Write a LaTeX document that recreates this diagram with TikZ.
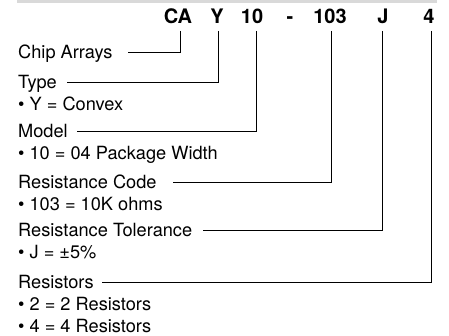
\documentclass[tikz,border=0pt]{standalone}
\usepackage{fontspec}
\setmainfont{TeX Gyre Heros}
\definecolor{barcol}{HTML}{D9D9D9}
\tikzset{
  hdr/.style={anchor=base, inner sep=0pt, font=\fontsize{20}{22}\selectfont\bfseries},
  lbl/.style={anchor=base west, inner sep=0pt, font=\fontsize{18.2}{21}\selectfont},
  conn/.style={draw=black, line width=0.85pt}
}
\begin{document}
\begin{tikzpicture}[x=1pt, y=-1pt]
\useasboundingbox (0,0) rectangle (449,336);
\fill[barcol] (17,0) rectangle (437,3);
% header code
\node[hdr] (hCA) at (178,24) {CA};
\node[hdr] (hY) at (217,24) {Y};
\node[hdr] (h10) at (252,24) {10};
\node[hdr] (hdash) at (290,24) {-};
\node[hdr] (h103) at (330,24) {103};
\node[hdr] (hJ) at (383,24) {J};
\node[hdr] (h4) at (429,24) {4};
% labels
\node[lbl] (lChip) at (18,58.5) {Chip Arrays};
\node[lbl] (lType) at (18,88.5) {Type};
\node[lbl] (dType) at (18,110.5) {\textbullet\ Y = Convex};
\node[lbl] (lModel) at (18,137.5) {Model};
\node[lbl] (dModel) at (18,159.5) {\textbullet\ 10 = 04 Package Width};
\node[lbl] (lRC) at (18,188.5) {Resistance Code};
\node[lbl] (dRC) at (18,210.5) {\textbullet\ 103 = 10K ohms};
\node[lbl] (lRT) at (18,236.5) {Resistance Tolerance};
\node[lbl] (dRT) at (18,258.5) {\textbullet\ J = ±5\%};
\node[lbl] (lRes) at (18,288.5) {Resistors};
\node[lbl] (dRes1) at (18,310.5) {\textbullet\ 2 = 2 Resistors};
\node[lbl] (dRes2) at (18,332.5) {\textbullet\ 4 = 4 Resistors};
% connector ends
\coordinate (tCA) at (180,31);  \coordinate (eChip) at (128,52);
\coordinate (tY) at (218,31);   \coordinate (eType) at (67,82);
\coordinate (t10) at (256,31);  \coordinate (eModel) at (77,131);
\coordinate (t103) at (331,31); \coordinate (eRC) at (173,182);
\coordinate (tJ) at (382,31);   \coordinate (eRT) at (203,230);
\coordinate (t4) at (431,31);   \coordinate (eRes) at (102,282);
\draw[conn] (tCA) |- (eChip);
\draw[conn] (tY) |- (eType);
\draw[conn] (t10) |- (eModel);
\draw[conn] (t103) |- (eRC);
\draw[conn] (tJ) |- (eRT);
\draw[conn] (t4) |- (eRes);
\end{tikzpicture}
\end{document}
